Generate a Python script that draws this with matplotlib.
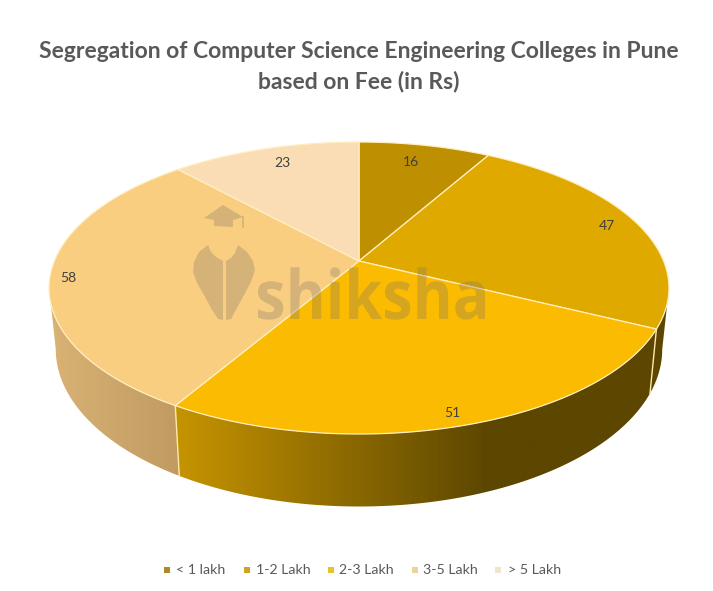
import numpy as np
import matplotlib
matplotlib.use("Agg")
import matplotlib.pyplot as plt
from matplotlib.colors import LinearSegmentedColormap
from matplotlib.font_manager import FontProperties
from matplotlib.patches import PathPatch, Polygon
from matplotlib.textpath import TextPath
from matplotlib.transforms import Affine2D

plt.rcParams["font.family"] = ["Lato", "DejaVu Sans"]

# chart values
categories = ["< 1 lakh", "1-2 Lakh", "2-3 Lakh", "3-5 Lakh", "> 5 Lakh"]
colleges = [16, 47, 51, 58, 23]
colors = ["#BE8F00", "#E0A900", "#FBBB00", "#F9CE80", "#FADDB4"]
legend_colors = ["#AD8A22", "#CDA51E", "#E8C22C", "#EBD49A", "#F2E3CC"]
label_pos = [(411, 162), (607, 226), (452, 413), (68, 278), (282, 163)]
legend_marks = [167, 247, 331, 415, 498]
legend_text = [176, 256, 339, 423, 508]

# perspective of the top and bottom faces, in pixels
CX = 359
K = 0.185


def project(theta, a, b, cy):
    w = 1 + K * np.cos(theta)
    return CX + a * np.sin(theta) / w, cy - b * np.cos(theta) / w


def top_face(theta):
    return project(theta, 304.6, 141, 261)


def bottom_face(theta):
    return project(theta, 298, 152, 320)


def side_poly(t0, t1):
    t = np.linspace(t0, t1, 120)
    x0, y0 = top_face(t)
    x1, y1 = bottom_face(t[::-1])
    return np.column_stack([np.r_[x0, x1], np.r_[y0, y1]])


def gradient_side(ax, t0, t1, x0, x1, c0, c1):
    # gradient runs x0..x1 and stays flat outside of it
    poly = Polygon(side_poly(t0, t1), closed=True, fc="none", ec="none")
    ax.add_patch(poly)
    cmap = LinearSegmentedColormap.from_list("side", [c0, c1])
    xs = np.linspace(0, 713, 714)
    grad = np.clip((xs - x0) / (x1 - x0), 0, 1)
    img = ax.imshow(grad[None, :], cmap=cmap, vmin=0, vmax=1, aspect="auto",
                    extent=(0, 713, 520, 280), zorder=1)
    img.set_clip_path(poly)


fig = plt.figure(figsize=(7.13, 5.91), dpi=100)
ax = fig.add_axes([0, 0, 1, 1])

# slice boundaries, clockwise from 12 o'clock
edges = np.r_[0, np.cumsum(colleges)] / sum(colleges) * 2 * np.pi
t_left = 2 * np.pi - np.arccos(-K)
t_right = np.arccos(-K)

# side wall
gradient_side(ax, t_right, edges[2], 640, 680, "#5C4600", "#5C4600")
gradient_side(ax, edges[2], edges[3], 176, 490, "#C69400", "#5C4600")
gradient_side(ax, edges[3], t_left, 50, 180, "#D9B274", "#C09A62")

# seams on the side
for e in [edges[2], edges[3]]:
    xa, ya = top_face(e)
    xb, yb = bottom_face(e)
    ax.plot([xa, xb], [ya, yb], color="#FFE9A8", lw=1, zorder=2)

# top face
for i, val in enumerate(colleges):
    t = np.linspace(edges[i], edges[i + 1], 150)
    x, y = top_face(t)
    pts = np.column_stack([np.r_[CX, x], np.r_[261, y]])
    ax.add_patch(Polygon(pts, closed=True, fc=colors[i], ec="#FFEFC0", lw=0.9,
                         joinstyle="round", zorder=3))

# watermark
mark = "#7F7468"
cap = [(204, 218), (223, 205), (243, 217), (233, 220), (233, 227), (214, 226), (214, 220)]
nib_l = [(208, 245), (199, 252), (194, 262), (193, 272), (197, 283), (204, 295), (211, 308),
         (218, 319), (223, 320), (223, 261), (216, 257), (211, 252)]
nib_r = [(238, 245), (247, 252), (253, 261), (255, 270), (251, 282), (244, 295), (237, 308),
         (231, 319), (226, 320), (226, 261), (231, 258), (235, 253)]
for shape in [cap, nib_l, nib_r]:
    ax.add_patch(Polygon(shape, closed=True, fc=mark, ec="none", alpha=0.3, zorder=4))
ax.plot([243, 243], [217, 227], color=mark, lw=1.2, alpha=0.3, zorder=4)

font = FontProperties(family="Open Sans", weight="bold")
word = TextPath((0, 0), "shiksha", size=68, prop=font)
box = word.get_extents()
sx = 227 / box.width
to_px = Affine2D().translate(-box.x0, 0).scale(sx, -1).translate(258, 319)
ax.add_patch(PathPatch(word.transformed(to_px), fc=mark, ec="none", alpha=0.3, zorder=4))

# data labels
for val, (x, y) in zip(colleges, label_pos):
    ax.text(x, y, str(val), fontsize=10, color="#404040", ha="center", va="center", zorder=5)

# title
ax.text(358.5, 51, "Segregation of Computer Science Engineering Colleges in Pune",
        fontsize=16.5, fontweight="bold", color="#595959", ha="center", va="center")
ax.text(358.5, 81, "based on Fee (in Rs)", fontsize=16.5, fontweight="bold",
        color="#595959", ha="center", va="center")

# legend
for cat, col, xm, xt in zip(categories, legend_colors, legend_marks, legend_text):
    ax.scatter([xm], [570], marker="s", s=20, color=col, linewidths=0)
    ax.text(xt, 570, cat, fontsize=10.2, color="#595959", ha="left", va="center")

ax.set_xlim(0, 713)
ax.set_ylim(591, 0)
ax.axis("off")
fig.savefig("out.png", dpi=100)
